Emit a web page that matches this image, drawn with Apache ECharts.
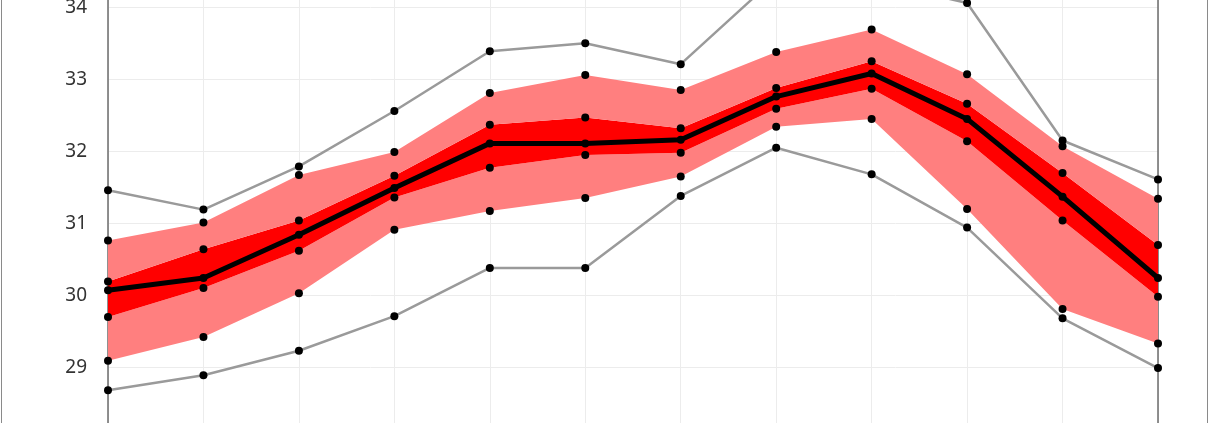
<!DOCTYPE html>
<html>
<head>
<meta charset="utf-8">
<script src="https://cdn.jsdelivr.net/npm/echarts@6/dist/echarts.min.js"></script>
<style>
html,body{margin:0;padding:0;background:#fff;overflow:hidden;}
#wrap{position:relative;width:1210px;height:423px;overflow:hidden;}
#c{position:absolute;left:0;top:-65px;width:1210px;height:520px;}
#frame{position:absolute;left:1px;top:-10px;width:1205px;height:450px;border-left:1.5px solid #8a8a8a;border-right:1.5px solid #8a8a8a;pointer-events:none;}
</style>
</head>
<body>
<div id="wrap"><div id="c"></div><div id="frame"></div></div>
<script>
var categories = ['Jan','Feb','Mar','Apr','May','Jun','Jul','Aug','Sep','Oct','Nov','Dec'];
var maxVals    = [31.46, 31.19, 31.79, 32.56, 33.39, 33.50, 33.21, 34.42, 34.37, 34.06, 32.15, 31.61];
var outerUpper = [30.76, 31.01, 31.67, 31.99, 32.81, 33.06, 32.85, 33.38, 33.69, 33.07, 32.07, 31.34];
var innerUpper = [30.19, 30.64, 31.04, 31.66, 32.37, 32.47, 32.32, 32.88, 33.25, 32.66, 31.70, 30.70];
var median     = [30.07, 30.24, 30.84, 31.49, 32.11, 32.11, 32.16, 32.76, 33.08, 32.45, 31.37, 30.24];
var innerLower = [29.70, 30.10, 30.62, 31.36, 31.77, 31.95, 31.98, 32.59, 32.87, 32.14, 31.04, 29.98];
var outerLower = [29.09, 29.42, 30.03, 30.91, 31.17, 31.35, 31.65, 32.34, 32.45, 31.20, 29.81, 29.33];
var minVals    = [28.68, 28.89, 29.23, 29.71, 30.38, 30.38, 31.38, 32.05, 31.68, 30.94, 29.68, 28.99];
var yTicks = [28, 29, 30, 31, 32, 33, 34, 35];

function diff(a, b) { return a.map(function (v, i) { return +(v - b[i]).toFixed(4); }); }

var chart = echarts.init(document.getElementById('c'), null, {renderer: 'canvas'});

function bandSeries(name, data, color) {
  return {
    name: name, type: 'line', stack: 'band', data: data,
    symbol: 'none', silent: true, z: 1,
    lineStyle: {width: 0, opacity: 0},
    areaStyle: color ? {color: color, opacity: 1} : {opacity: 0}
  };
}
function markerSeries(name, data) {
  return {
    name: name, type: 'scatter', data: data, symbol: 'circle', symbolSize: 8,
    itemStyle: {color: '#000', opacity: 1}, z: 5
  };
}
function lineSeries(name, data, color, width, z) {
  return {
    name: name, type: 'line', data: data, symbol: 'circle', symbolSize: 8,
    showSymbol: true, itemStyle: {color: '#000', opacity: 1},
    lineStyle: {color: color, width: width}, z: z
  };
}

var option = {
  animation: false,
  grid: {left: 108, right: 52, top: 0.3, bottom: 15.7, containLabel: false, outerBoundsMode: 'none'},
  xAxis: {
    type: 'category', data: categories, boundaryGap: false,
    axisLine: {show: false}, axisTick: {show: false}, axisLabel: {show: false},
    splitLine: {show: true, lineStyle: {color: '#ececec', width: 1}}
  },
  yAxis: [{
    type: 'value', min: yTicks[0], max: yTicks[yTicks.length - 1], interval: 1,
    axisLine: {show: true, lineStyle: {color: '#6b6b6b', width: 1.5}},
    axisTick: {show: false},
    axisLabel: {color: '#333333', fontSize: 19, fontFamily: 'Noto Sans', margin: 21},
    splitLine: {show: true, lineStyle: {color: '#ececec', width: 1}}
  }, {
    type: 'value', position: 'right', min: yTicks[0], max: yTicks[yTicks.length - 1], interval: 1,
    axisLine: {show: true, lineStyle: {color: '#6b6b6b', width: 1.5}},
    axisTick: {show: false}, axisLabel: {show: false}, splitLine: {show: false}
  }],
  series: [
    bandSeries('base', outerLower, null),
    bandSeries('outerLowBand', diff(innerLower, outerLower), '#ff7f7f'),
    bandSeries('innerBand', diff(innerUpper, innerLower), '#ff0000'),
    bandSeries('outerHighBand', diff(outerUpper, innerUpper), '#ff7f7f'),
    lineSeries('Max', maxVals, '#9a9a9a', 2.5, 3),
    lineSeries('Min', minVals, '#9a9a9a', 2.5, 3),
    lineSeries('Median', median, '#000', 5, 4),
    markerSeries('Outer upper', outerUpper),
    markerSeries('Inner upper', innerUpper),
    markerSeries('Inner lower', innerLower),
    markerSeries('Outer lower', outerLower)
  ]
};
chart.setOption(option);
</script>
</body>
</html>
